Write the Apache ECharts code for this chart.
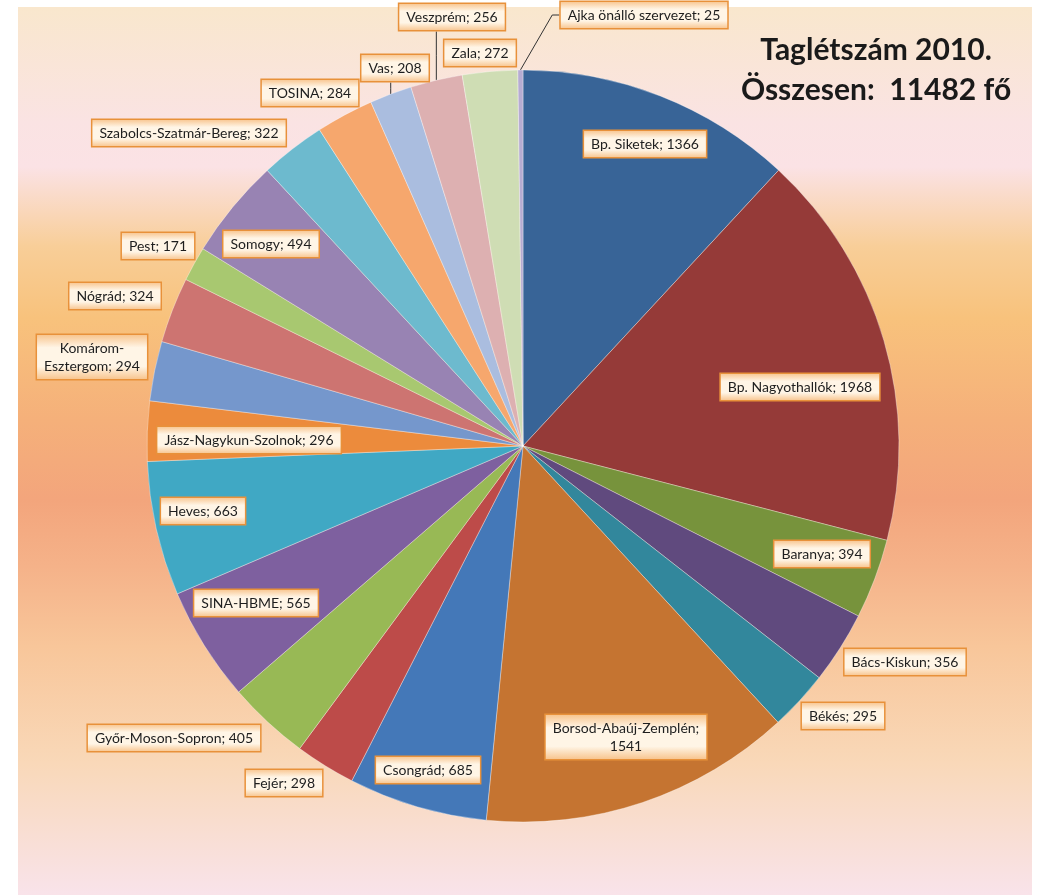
<!DOCTYPE html>
<html><head><meta charset="utf-8">
<script src="https://cdn.jsdelivr.net/npm/echarts@6/dist/echarts.min.js"></script>
<style>html,body{margin:0;padding:0;background:#fff}#c{width:1038px;height:895px}</style>
</head><body><div id="c"></div>
<script>
const categories = ['Bp. Siketek','Bp. Nagyothallók','Baranya','Bács-Kiskun','Békés','Borsod-Abaúj-Zemplén','Csongrád','Fejér','Győr-Moson-Sopron','SINA-HBME','Heves','Jász-Nagykun-Szolnok','Komárom-Esztergom','Nógrád','Pest','Somogy','Szabolcs-Szatmár-Bereg','TOSINA','Vas','Veszprém','Zala','Ajka önálló szervezet'];
const values = [1366,1968,394,356,295,1541,685,298,405,565,663,296,294,324,171,494,322,284,208,256,272,25];
const titleText = 'Taglétszám 2010.\nÖsszesen:  11482 fő';

// styling / placement (not data)
const colors = ['#386497','#953A38','#77933C','#604A7E','#32879C','#C57431','#4478B8','#BD4B49','#98B955','#7E609F','#40A8C4','#EC8B3C','#7597CC','#CD7471','#A8C870','#9883B3','#6DBACE','#F6A76D','#AABDDF','#DDB0B1','#CFDDB4','#B6ACD2'];
const labelCenters = [[645,144],[800,387],[822,554],[905,662],[843,716],[626,737],[428,770],[284,783],[174,738],[256,603],[203,511],[249,440],[92,357],[115,296],[158,246],[271,244],[189,133],[310,93],[395,68],[452,17],[480,53],[644,15]];
const lineRoute = {'Vas':'up','Veszprém':'up','Ajka önálló szervezet':'elbowLeft'};
const wrapNames = {'Komárom-Esztergom':'Komárom-\nEsztergom'};
const valueNewLine = ['Borsod-Abaúj-Zemplén'];

const chart = echarts.init(document.getElementById('c'), null, {renderer:'canvas'});
const G = echarts.graphic.LinearGradient;
const bgGrad = new G(0,0,0,1,[
  {offset:0,color:'#F9E7CD'},
  {offset:0.13,color:'#FAE3E3'},
  {offset:0.18,color:'#FBE2E5'},
  {offset:0.27,color:'#F8CE98'},
  {offset:0.35,color:'#F8C27C'},
  {offset:0.465,color:'#F5B07A'},
  {offset:0.555,color:'#F3A57C'},
  {offset:0.63,color:'#F5B289'},
  {offset:0.72,color:'#F8C69A'},
  {offset:0.85,color:'#F9D8B8'},
  {offset:1,color:'#F9E3EA'}
]);
const labelBg = new G(0,0,0,1,[
  {offset:0,color:'#F7C086'},
  {offset:0.3,color:'#FFF5E6'},
  {offset:0.7,color:'#FFF5E6'},
  {offset:1,color:'#F7C086'}
]);

const data = categories.map((n,i)=>{
  const d = {name:n, value:values[i], itemStyle:{color:colors[i]}};
  if (lineRoute[n]) {
    d.labelLine = {show:true, length:10, length2:10, lineStyle:{color:'#333', width:1}};
  }
  return d;
});

chart.setOption({
  animation:false,
  graphic:[{type:'rect', z:0, silent:true, shape:{x:18,y:7,width:1014,height:888}, style:{fill:bgGrad}}],
  title:{
    text:titleText, left:876, top:30, padding:0, textAlign:'center',
    textStyle:{fontFamily:'Lato', fontWeight:'bold', fontSize:30, lineHeight:40, color:'#1a1a1a'}
  },
  series:[{
    type:'pie',
    center:[523,446],
    radius:376,
    startAngle:90,
    clockwise:true,
    avoidLabelOverlap:false,
    itemStyle:{borderColor:'rgba(255,255,255,0.35)', borderWidth:1},
    label:{
      show:true, position:'outside',
      formatter:function(p){
        const nm = wrapNames[p.name] || p.name;
        return nm + (valueNewLine.indexOf(p.name)>=0 ? ';\n' : '; ') + p.value;
      },
      color:'#1e1e1e', fontFamily:'Lato', fontSize:14, lineHeight:18,
      backgroundColor:labelBg, borderColor:'#E8913A', borderWidth:1.5,
      padding:[4,7], align:'center'
    },
    labelLine:{show:false},
    labelLayout:function(p){
      const c = labelCenters[p.dataIndex];
      const out = {x:c[0], y:c[1], align:'center', verticalAlign:'middle'};
      const route = lineRoute[categories[p.dataIndex]];
      if (route && p.labelLinePoints) {
        const s = p.labelLinePoints[0];
        const w = p.labelRect.width, h = p.labelRect.height;
        if (route === 'up') {
          const by = c[1] + h/2;
          out.labelLinePoints = [[s[0], s[1]], [s[0], (s[1]+by)/2], [s[0], by]];
        } else {
          const lx = c[0] - w/2;
          out.labelLinePoints = [[s[0], s[1]], [lx - 7, c[1]], [lx, c[1]]];
        }
      }
      return out;
    },
    emphasis:{disabled:true},
    data:data
  }]
});
</script>
</body></html>
